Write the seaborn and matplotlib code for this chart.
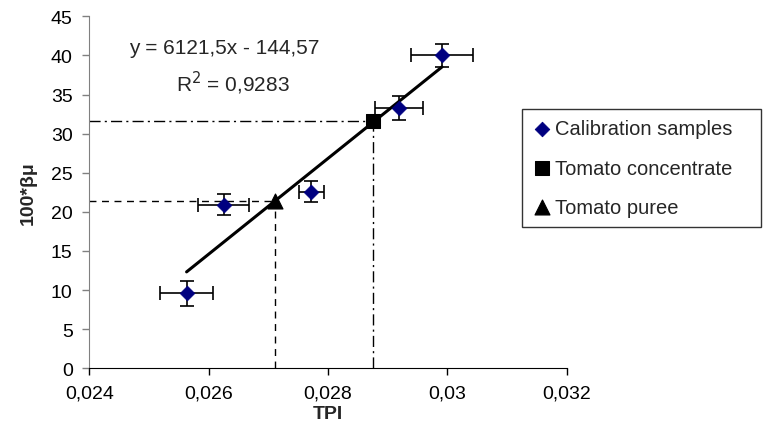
import numpy as np
import pandas as pd
import matplotlib
matplotlib.use("Agg")
import matplotlib.pyplot as plt
import seaborn as sns

# calibration samples (TPI, 100*beta*mu) with error bars
cal_x = [0.02563, 0.02625, 0.02772, 0.02919, 0.02991]
cal_y = [9.6, 20.9, 22.6, 33.3, 40.0]
cal_xerr = [0.00044, 0.00043, 0.00021, 0.00040, 0.00052]
cal_yerr = [1.6, 1.35, 1.3, 1.55, 1.5]

# fitted line y = 6121.5x - 144.57
slope = 6121.5
intercept = -144.57

# unknown samples
conc_x, conc_y = 0.02876, 31.6
puree_x, puree_y = 0.02712, 21.4

sns.set_style("ticks")
plt.rcParams['font.family'] = ['Liberation Sans', 'DejaVu Sans']

fig = plt.figure(figsize=(7.66, 4.39), dpi=100)
ax = fig.add_axes([0.1166, 0.1588, 0.6232, 0.8018])

# guide lines for the unknowns
ax.plot([0.024, puree_x], [puree_y, puree_y], color='black', lw=1, ls=(0, (5, 4)))
ax.plot([puree_x, puree_x], [0, puree_y], color='black', lw=1, ls=(0, (5, 4)))
ax.plot([0.024, conc_x], [conc_y, conc_y], color='black', lw=1, ls=(0, (8, 3, 1.5, 3)))
ax.plot([conc_x, conc_x], [0, conc_y], color='black', lw=1, ls=(0, (8, 3, 1.5, 3)))

# regression line over the calibration range
line_x = np.array([min(cal_x), max(cal_x)])
line_df = pd.DataFrame({'x': line_x, 'y': slope * line_x + intercept})
sns.lineplot(data=line_df, x='x', y='y', color='black', lw=2.2, ax=ax)

ax.errorbar(cal_x, cal_y, xerr=cal_xerr, yerr=cal_yerr, fmt='none',
            ecolor='black', elinewidth=1.2, capsize=5, capthick=1.2, zorder=3)

cal_df = pd.DataFrame({'x': cal_x, 'y': cal_y})
sns.scatterplot(data=cal_df, x='x', y='y', marker='D', s=55, color='#000080',
                edgecolor='#000080', ax=ax, zorder=4, label='Calibration samples')
sns.scatterplot(x=[conc_x], y=[conc_y], marker='s', s=90, color='black',
                edgecolor='black', ax=ax, zorder=5, label='Tomato concentrate')
sns.scatterplot(x=[puree_x], y=[puree_y], marker='^', s=115, color='black',
                edgecolor='black', ax=ax, zorder=5, label='Tomato puree')

ax.set_xlim(0.024, 0.032)
ax.set_ylim(0, 45)
ax.set_xticks([0.024, 0.026, 0.028, 0.030, 0.032])
ax.set_xticklabels(['0,024', '0,026', '0,028', '0,03', '0,032'])
ax.set_yticks(range(0, 46, 5))
ax.tick_params(labelsize=14, length=5, width=1, colors='black')
ax.tick_params(axis='x', pad=7)
ax.tick_params(axis='y', color='#808080', pad=7)
ax.spines['left'].set_color('#808080')
ax.spines['bottom'].set_color('black')
sns.despine(ax=ax)

ax.set_xlabel('TPI', fontsize=14, fontweight='bold', labelpad=2)
ax.set_ylabel('100*βμ', fontsize=14, fontweight='bold', labelpad=10)

ax.text(0.026254, 41.05, 'y = 6121,5x - 144,57', fontsize=15, ha='center', va='center')
ax.text(0.026405, 36.6, 'R$^2$ = 0,9283', fontsize=15, ha='center', va='center')

leg_box = (521.7 / 766, 1 - 228 / 439, (760.7 - 521.7) / 766, (228 - 110.3) / 439)
leg = ax.legend(loc='upper left', mode='expand', fontsize=14.5, frameon=True,
                fancybox=False, edgecolor='black', handletextpad=0.15,
                handlelength=1.0, borderpad=0.5, labelspacing=1.0, borderaxespad=0)
leg.set_bbox_to_anchor(leg_box, transform=fig.transFigure)
leg.get_frame().set_linewidth(1.0)

fig.savefig('out.png', dpi=100)
